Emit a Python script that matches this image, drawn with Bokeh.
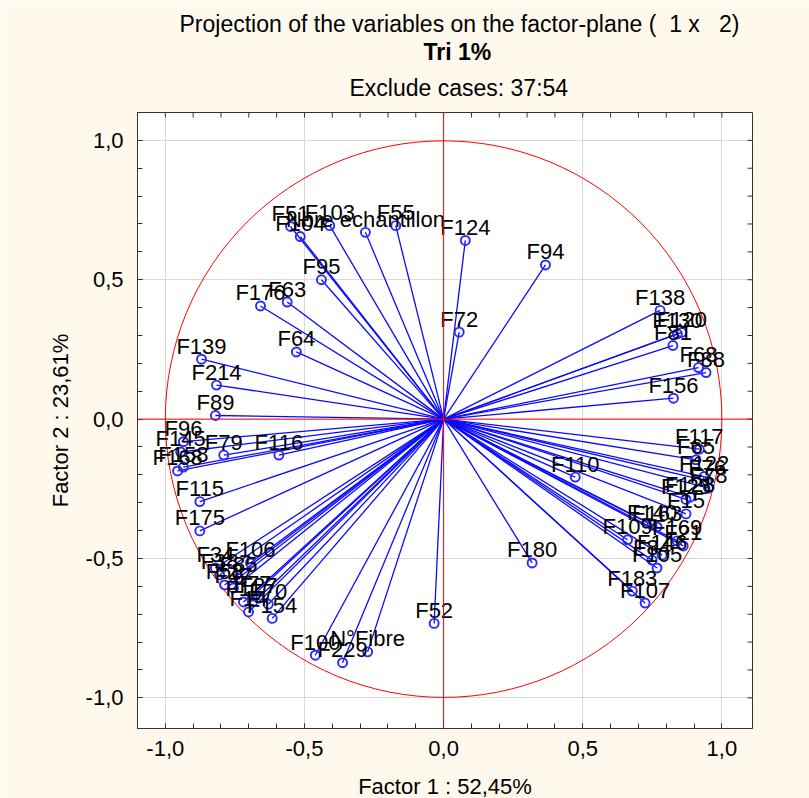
from bokeh.plotting import figure
from bokeh.models import (ColumnDataSource, FixedTicker, CustomJSTickFormatter,
                          Span, Title)
from bokeh.core.properties import value
from bokeh.embed import file_html
from bokeh.resources import INLINE
import numpy as np

# Variable coordinates on factors 1 and 2
names = [
    "F51", "F104", "F103", "Nbre echantillon", "F55", "F124", "F95", "F176", "F63", "F64",
    "F139", "F214", "F72", "F94", "F89",
    "F138", "F130", "F120", "F81", "F68", "F88", "F156",
    "F117", "F65", "F122", "F76", "F78", "F128", "F125", "F15", "F110",
    "F140", "F163", "F109", "F169", "F21", "F146", "F84", "F105", "F183", "F107", "F180",
    "F96", "F145", "F158", "F168", "F79", "F116", "F115", "F175", "F106",
    "F34", "F38", "F85", "F58", "F47", "F77", "F27", "F70", "F11", "F14", "F154",
    "F100", "F229", "N°Fibre", "F52",
]
factor1 = [
    -0.550, -0.515, -0.409, -0.281, -0.172, 0.078, -0.439, -0.658, -0.562, -0.529,
    -0.870, -0.816, 0.056, 0.366, -0.820,
    0.778, 0.840, 0.856, 0.824, 0.916, 0.943, 0.826,
    0.919, 0.907, 0.936, 0.947, 0.952, 0.886, 0.871, 0.871, 0.473,
    0.749, 0.767, 0.661, 0.839, 0.861, 0.785, 0.749, 0.767, 0.678, 0.724, 0.318,
    -0.935, -0.945, -0.935, -0.956, -0.790, -0.592, -0.876, -0.876, -0.694,
    -0.820, -0.805, -0.737, -0.787, -0.755, -0.687, -0.665, -0.630, -0.719, -0.701, -0.616,
    -0.461, -0.363, -0.273, -0.034,
]
factor2 = [
    0.691, 0.655, 0.694, 0.670, 0.694, 0.641, 0.500, 0.406, 0.420, 0.241,
    0.215, 0.122, 0.312, 0.553, 0.013,
    0.390, 0.306, 0.311, 0.264, 0.185, 0.167, 0.075,
    -0.108, -0.146, -0.206, -0.222, -0.248, -0.280, -0.288, -0.340, -0.208,
    -0.380, -0.387, -0.433, -0.437, -0.455, -0.488, -0.506, -0.534, -0.617, -0.660, -0.516,
    -0.081, -0.118, -0.172, -0.186, -0.129, -0.129, -0.296, -0.401, -0.516,
    -0.534, -0.559, -0.570, -0.595, -0.606, -0.635, -0.642, -0.664, -0.656, -0.692, -0.715,
    -0.847, -0.874, -0.835, -0.733,
]

# non-breaking spaces keep the padding inside the parentheses
title_main = "Projection of the variables on the factor-plane (\u00a0\u00a01 x\u00a0\u00a0\u00a02)"
title_sub = "Tri 1%"
title_note = "Exclude cases: 37:54"
x_title = "Factor 1 : 52,45%"
y_title = "Factor 2 : 23,61%"
major_ticks = [-1.0, -0.5, 0.0, 0.5, 1.0]

FONT = "Liberation Sans"
BG = "#FEF9EC"
EDGE = "#333333"
X_LO, X_HI = -1.1, 1.11
Y_LO, Y_HI = -1.11, 1.1

src = ColumnDataSource(dict(x=factor1, y=factor2, name=names))

p = figure(width=809, height=798, output_backend="svg", toolbar_location=None,
           x_range=(X_LO, X_HI), y_range=(Y_LO, Y_HI),
           frame_width=615, frame_height=616,
           min_border_left=137, min_border_right=57,
           min_border_top=112, min_border_bottom=70)
p.background_fill_color = "white"
p.border_fill_color = BG
p.outline_line_color = EDGE
p.outline_line_width = 1

# heading: added nearest-first, so the main line ends up on top
for txt, style, stand, valign, off in ((title_note, "normal", 20, "top", 212),
                                       (title_sub, "bold", 0, "bottom", 286),
                                       (title_main, "normal", 0, "bottom", 42)):
    p.add_layout(Title(text=txt, align="left", offset=off, standoff=stand,
                       vertical_align=valign,
                       text_font=FONT, text_font_size="23px",
                       text_font_style=style, text_color="black"), "above")

minor = [round(v, 1) for v in np.arange(-1.0, 1.05, 0.1)]
ticker = FixedTicker(ticks=major_ticks, minor_ticks=minor)
fmt = CustomJSTickFormatter(code="return tick.toFixed(1).replace('.', ',')")

for ax in (p.xaxis[0], p.yaxis[0]):
    ax.ticker = ticker
    ax.formatter = fmt
    ax.major_tick_in = 5
    ax.major_tick_out = 0
    ax.minor_tick_in = 5
    ax.minor_tick_out = 0
    ax.axis_line_color = EDGE
    ax.major_tick_line_color = EDGE
    ax.minor_tick_line_color = EDGE
    ax.major_label_text_font = FONT
    ax.major_label_text_font_size = "22px"
    ax.major_label_text_color = "black"
    ax.axis_label_text_font = FONT
    ax.axis_label_text_font_size = "22px"
    ax.axis_label_text_font_style = "normal"
    ax.axis_label_text_color = "black"

p.xaxis[0].axis_label = x_title
p.yaxis[0].axis_label = y_title
p.xaxis[0].major_label_standoff = 12
p.xaxis[0].axis_label_standoff = 15
p.yaxis[0].major_label_standoff = 14
p.yaxis[0].axis_label_standoff = 10

p.xgrid.ticker = FixedTicker(ticks=major_ticks)
p.ygrid.ticker = FixedTicker(ticks=major_ticks)
p.xgrid.grid_line_color = "#d9d9d9"
p.ygrid.grid_line_color = "#d9d9d9"

# tick marks along the top and right edges (half of each dash is clipped away)
p.scatter(x=minor, y=[Y_HI] * len(minor), marker="dash", angle=np.pi / 2, size=10,
          line_color=EDGE, line_width=1)
p.scatter(x=[X_HI] * len(minor), y=minor, marker="dash", size=10,
          line_color=EDGE, line_width=1)

# unit circle and the origin axes
p.add_layout(Span(location=0, dimension="height", line_color="red", line_width=1))
p.add_layout(Span(location=0, dimension="width", line_color="red", line_width=1))
p.circle(x=[0], y=[0], radius=1, fill_color=None, line_color="red", line_width=1)

# loading vectors
p.segment(x0=0, y0=0, x1="x", y1="y", source=src, line_color="#0a0aff", line_width=1.3)
p.scatter(x="x", y="y", source=src, marker="circle", size=9, fill_color=None,
          line_color="#2a2aff", line_width=1.9)
p.text(x="x", y="y", text="name", source=src, text_align="center",
       text_baseline="alphabetic", y_offset=-13, text_font=value(FONT),
       text_font_size="22px", text_color="black")

open("out.html", "w").write(file_html(p, INLINE))
